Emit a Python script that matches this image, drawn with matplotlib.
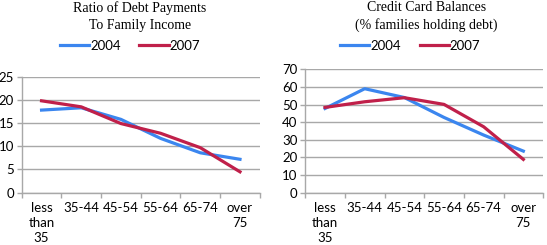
import numpy as np
import matplotlib.pyplot as plt
from matplotlib.ticker import MultipleLocator

# Data
age_groups = ['less\nthan\n35', '35-44', '45-54', '55-64', '65-74', 'over\n75']
ratio_2004 = [17.8, 18.3, 15.8, 11.7, 8.6, 7.2]
ratio_2007 = [19.8, 18.5, 14.9, 12.8, 9.7, 4.5]
card_2004 = [47.8, 59.0, 54.0, 42.7, 32.7, 23.6]
card_2007 = [48.4, 51.6, 53.9, 50.1, 37.4, 18.9]
series_labels = ['2004', '2007']

blue = '#3b86ef'
red = '#c0204a'
grid_col = '#a8a8a8'

plt.rcParams['font.family'] = 'Lato'

fig = plt.figure(figsize=(5.47, 2.45), dpi=100)
ax1 = fig.add_axes([0.0397, 0.2135, 0.4353, 0.4735])
ax2 = fig.add_axes([0.558, 0.2135, 0.435, 0.5035])


def style_axis(ax, ymax, step):
    x = np.arange(len(age_groups))
    ax.set_xlim(-0.5, len(age_groups) - 0.5)
    ax.set_ylim(0, ymax)
    ax.yaxis.set_major_locator(MultipleLocator(step))
    ax.set_xticks(x)
    ax.set_xticklabels(age_groups, fontsize=9.5, va='top', linespacing=1.3)
    ax.set_xticks(np.arange(len(age_groups) + 1) - 0.5, minor=True)
    ax.tick_params(axis='x', which='major', length=0, pad=7)
    ax.tick_params(axis='x', which='minor', length=3.5, color=grid_col, width=1)
    ax.tick_params(axis='y', length=3.5, color=grid_col, width=1, labelsize=9.5, pad=2)
    ax.grid(axis='y', color=grid_col, linewidth=1)
    ax.set_axisbelow(True)
    for s in ['top', 'right']:
        ax.spines[s].set_visible(False)
    for s in ['left', 'bottom']:
        ax.spines[s].set_color(grid_col)
        ax.spines[s].set_linewidth(1)


x = np.arange(len(age_groups))
ax1.plot(x, ratio_2004, color=blue, lw=2.3, label=series_labels[0], clip_on=False)
ax1.plot(x, ratio_2007, color=red, lw=2.3, label=series_labels[1], clip_on=False)
style_axis(ax1, 25, 5)

ax2.plot(x, card_2004, color=blue, lw=2.3, label=series_labels[0], clip_on=False)
ax2.plot(x, card_2007, color=red, lw=2.3, label=series_labels[1], clip_on=False)
style_axis(ax2, 70, 10)

for ax, cx in [(ax1, 0.238), (ax2, 0.750)]:
    ax.legend(loc='center', bbox_to_anchor=(cx, 0.814), bbox_transform=fig.transFigure,
              ncol=2, frameon=False, fontsize=9.5, handlelength=2.2, handletextpad=0.1,
              columnspacing=1.4, borderpad=0)

fig.text(0.256, 0.995, 'Ratio of Debt Payments\nTo Family Income', ha='center', va='top',
         family='Liberation Serif', fontsize=10, linespacing=1.35)
fig.text(0.779, 0.995, 'Credit Card Balances\n(% families holding debt)', ha='center', va='top',
         family='Liberation Serif', fontsize=10, linespacing=1.35)

fig.savefig('out.png', dpi=100)
